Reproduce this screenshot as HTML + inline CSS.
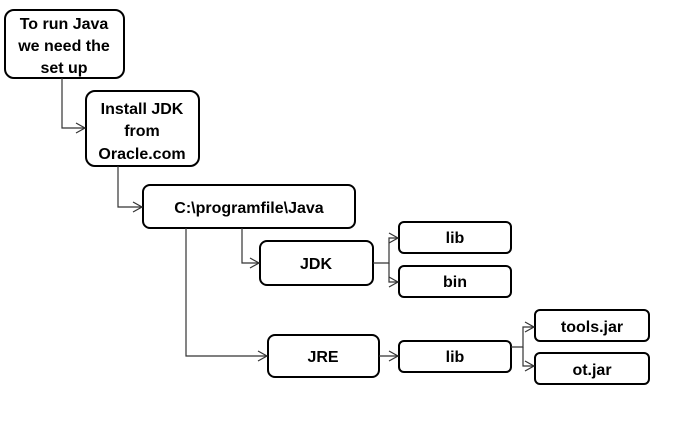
<!DOCTYPE html>
<html><head><meta charset="utf-8"><style>
html,body{margin:0;padding:0;background:#fff}
svg text{font-family:"Liberation Sans",sans-serif;font-weight:bold;font-size:16px;fill:#000;text-anchor:middle}
</style></head><body>
<svg width="680" height="418" viewBox="0 0 680 418" xmlns="http://www.w3.org/2000/svg">
<defs><marker id="a" markerWidth="12" markerHeight="12" refX="10" refY="6" orient="auto" markerUnits="userSpaceOnUse"><path d="M1,1 L10,6 L1,11" fill="none" stroke="#333" stroke-width="1.2"/></marker></defs>
<g fill="#fff" stroke="#000" stroke-width="2">
<rect x="5" y="10" width="119" height="68" rx="9"/>
<rect x="86" y="91" width="113" height="75" rx="9"/>
<rect x="143" y="185" width="212" height="43" rx="7"/>
<rect x="260" y="241" width="113" height="44" rx="7"/>
<rect x="268" y="335" width="111" height="42" rx="7"/>
<rect x="399" y="222" width="112" height="31" rx="5"/>
<rect x="399" y="266" width="112" height="31" rx="5"/>
<rect x="399" y="341" width="112" height="31" rx="5"/>
<rect x="535" y="310" width="114" height="31" rx="5"/>
<rect x="535" y="353" width="114" height="31" rx="5"/>
</g>
<g fill="none" stroke="#333" stroke-width="1.2">
<path d="M62,78 V128 H85" marker-end="url(#a)"/>
<path d="M118,166 V207 H142" marker-end="url(#a)"/>
<path d="M242,228 V263 H259" marker-end="url(#a)"/>
<path d="M186,228 V356 H267" marker-end="url(#a)"/>
<path d="M373,263 H389 V238 H398" marker-end="url(#a)"/>
<path d="M389,263 V282 H398" marker-end="url(#a)"/>
<path d="M379,356 H398" marker-end="url(#a)"/>
<path d="M511,347 H523 V327 H534" marker-end="url(#a)"/>
<path d="M523,347 V366 H534" marker-end="url(#a)"/>
</g>
<text x="64" y="29">To run Java</text>
<text x="64" y="51">we need the</text>
<text x="64" y="73">set up</text>
<text x="142" y="114">Install JDK</text>
<text x="142" y="136">from</text>
<text x="142" y="159">Oracle.com</text>
<text x="249" y="213">C:\programfile\Java</text>
<text x="316" y="269">JDK</text>
<text x="323" y="362">JRE</text>
<text x="455" y="243">lib</text>
<text x="455" y="287">bin</text>
<text x="455" y="362">lib</text>
<text x="592" y="332">tools.jar</text>
<text x="592" y="375">ot.jar</text>
</svg>
</body></html>
